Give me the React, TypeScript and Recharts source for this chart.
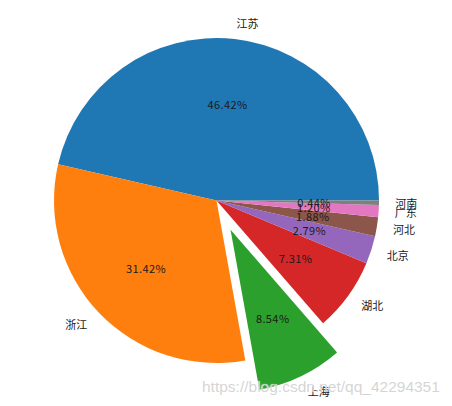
import { PieChart, Pie, Cell } from 'recharts'

// provinces and their share of the total, in matplotlib's counter-clockwise order
const names = ['江苏', '浙江', '上海', '湖北', '北京', '河北', '广东', '河南']
const shares = [46.42, 31.42, 8.54, 7.31, 2.79, 1.88, 1.2, 0.44]
const explode = [0, 0, 0.2, 0, 0, 0, 0, 0]
const palette = ['#1f77b4', '#ff7f0e', '#2ca02c', '#d62728', '#9467bd', '#8c564b', '#e377c2', '#7f7f7f']

const data = names.map((name, i) => ({ name, value: shares[i] }))

const W = 452
const H = 406
const CX = 216.5
const CY = 200.5
const R = 162.5
const RAD = Math.PI / 180
const font = '"Noto Sans CJK SC", "Noto Sans", sans-serif'

// mid angle of a slice (degrees, counter-clockwise from 3 o'clock)
function midAngleOf(idx: number) {
  const total = shares.reduce((a, b) => a + b, 0)
  const before = shares.slice(0, idx).reduce((a, b) => a + b, 0)
  return ((before + shares[idx] / 2) / total) * 360
}

// matplotlib-ish labels: name at 1.1r (left/right aligned), percent at 0.6r (centred)
const makeLabel = (show: (i: number) => boolean) => (p: any) => {
  if (!show(p.index)) return null
  const c = Math.cos(p.midAngle * RAD)
  const s = Math.sin(p.midAngle * RAD)
  const r = p.outerRadius
  return (
    <g>
      <text
        x={p.cx + r * 1.1 * c} y={p.cy - r * 1.1 * s}
        textAnchor={c > 0 ? 'start' : 'end'} dominantBaseline="central"
        fill="#1a1a1a" fontSize={11} fontFamily={font}
      >
        {p.name}
      </text>
      <text
        x={p.cx + r * 0.6 * c} y={p.cy - r * 0.6 * s}
        textAnchor="middle" dominantBaseline="central"
        fill="#1a1a1a" fontSize={11} fontFamily={font} letterSpacing={0.4}
      >
        {(p.percent * 100).toFixed(2)}%
      </text>
    </g>
  )
}

const exIdx = explode.findIndex((e) => e > 0)
const exMid = midAngleOf(exIdx)
const exCx = CX + explode[exIdx] * R * Math.cos(exMid * RAD)
const exCy = CY - explode[exIdx] * R * Math.sin(exMid * RAD)

export default function App() {
  return (
    <div style={{ position: 'absolute', left: 0, top: 0, width: W, height: H, background: '#fff' }}>
      <PieChart width={W} height={H} margin={{ top: 0, right: 0, bottom: 0, left: 0 }}>
        <Pie
          data={data} dataKey="value" nameKey="name"
          cx={CX} cy={CY} outerRadius={R} innerRadius={0}
          startAngle={0} endAngle={360} stroke="none"
          label={makeLabel((i) => explode[i] === 0)} labelLine={false}
          isAnimationActive={false}
        >
          {data.map((d, i) => (
            <Cell key={d.name} fill={explode[i] === 0 ? palette[i] : 'none'} />
          ))}
        </Pie>
        <Pie
          data={data} dataKey="value" nameKey="name"
          cx={exCx} cy={exCy} outerRadius={R} innerRadius={0}
          startAngle={0} endAngle={360} stroke="none"
          label={makeLabel((i) => explode[i] > 0)} labelLine={false}
          isAnimationActive={false}
        >
          {data.map((d, i) => (
            <Cell key={d.name} fill={explode[i] > 0 ? palette[i] : 'none'} />
          ))}
        </Pie>
      </PieChart>
      <div style={{
        position: 'absolute', left: 202, top: 378, fontFamily: '"Liberation Sans", Arial, sans-serif',
        fontSize: 15.5, color: 'rgba(205,205,205,0.85)', whiteSpace: 'nowrap', pointerEvents: 'none',
        textShadow: '0 0 1px rgba(255,255,255,0.9)',
      }}>
        https://blog.csdn.net/qq_42294351
      </div>
    </div>
  )
}
